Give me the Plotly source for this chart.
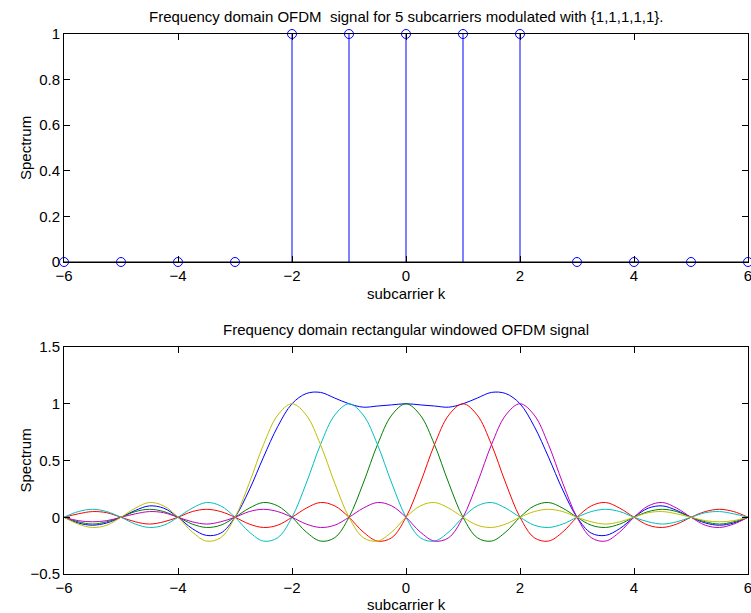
import plotly.graph_objects as go

# ---- data ----
k_stem = [-6, -5, -4, -3, -2, -1, 0, 1, 2, 3, 4, 5, 6]
spectrum = [0, 0, 0, 0, 1, 1, 1, 1, 1, 0, 0, 0, 0]

k_fine = [-6 + 0.25 * i for i in range(49)]

sum_spec = [0, -0.05, -0.07, -0.05, 0, 0.06, 0.10, 0.08, 0, -0.10, -0.16, -0.14,
            0, 0.24, 0.53, 0.80, 1, 1.09, 1.10, 1.05, 1, 0.97, 0.98, 0.99,
            1, 0.99, 0.98, 0.97, 1, 1.05, 1.10, 1.09, 1, 0.80, 0.53, 0.24,
            0, -0.14, -0.16, -0.10, 0, 0.08, 0.10, 0.06, 0, -0.05, -0.07, -0.05, 0]
sub_m2 = [0, -0.06, -0.09, -0.07, 0, 0.08, 0.13, 0.10, 0, -0.13, -0.21, -0.18,
          0, 0.30, 0.64, 0.90, 1, 0.90, 0.64, 0.30, 0, -0.18, -0.21, -0.13,
          0, 0.10, 0.13, 0.08, 0, -0.07, -0.09, -0.06, 0, 0.05, 0.07, 0.05,
          0, -0.04, -0.06, -0.04, 0, 0.04, 0.05, 0.03, 0, -0.03, -0.04, -0.03, 0]
sub_m1 = [0, 0.05, 0.07, 0.05, 0, -0.06, -0.09, -0.07, 0, 0.08, 0.13, 0.10,
          0, -0.13, -0.21, -0.18, 0, 0.30, 0.64, 0.90, 1, 0.90, 0.64, 0.30,
          0, -0.18, -0.21, -0.13, 0, 0.10, 0.13, 0.08, 0, -0.07, -0.09, -0.06,
          0, 0.05, 0.07, 0.05, 0, -0.04, -0.06, -0.04, 0, 0.04, 0.05, 0.03, 0]
sub_0 = [0, -0.04, -0.06, -0.04, 0, 0.05, 0.07, 0.05, 0, -0.06, -0.09, -0.07,
         0, 0.08, 0.13, 0.10, 0, -0.13, -0.21, -0.18, 0, 0.30, 0.64, 0.90,
         1, 0.90, 0.64, 0.30, 0, -0.18, -0.21, -0.13, 0, 0.10, 0.13, 0.08,
         0, -0.07, -0.09, -0.06, 0, 0.05, 0.07, 0.05, 0, -0.04, -0.06, -0.04, 0]
sub_p1 = [0, 0.03, 0.05, 0.04, 0, -0.04, -0.06, -0.04, 0, 0.05, 0.07, 0.05,
          0, -0.06, -0.09, -0.07, 0, 0.08, 0.13, 0.10, 0, -0.13, -0.21, -0.18,
          0, 0.30, 0.64, 0.90, 1, 0.90, 0.64, 0.30, 0, -0.18, -0.21, -0.13,
          0, 0.10, 0.13, 0.08, 0, -0.07, -0.09, -0.06, 0, 0.05, 0.07, 0.05, 0]
sub_p2 = [0, -0.03, -0.04, -0.03, 0, 0.03, 0.05, 0.04, 0, -0.04, -0.06, -0.04,
          0, 0.05, 0.07, 0.05, 0, -0.06, -0.09, -0.07, 0, 0.08, 0.13, 0.10,
          0, -0.13, -0.21, -0.18, 0, 0.30, 0.64, 0.90, 1, 0.90, 0.64, 0.30,
          0, -0.18, -0.21, -0.13, 0, 0.10, 0.13, 0.08, 0, -0.07, -0.09, -0.06, 0]

x_ticks = [-6, -4, -2, 0, 2, 4, 6]
top_yticks = [0, 0.2, 0.4, 0.6, 0.8, 1]
bot_yticks = [-0.5, 0, 0.5, 1, 1.5]

title_top = "Frequency domain OFDM  signal for 5 subcarriers modulated with {1,1,1,1,1}."
title_bot = "Frequency domain rectangular windowed OFDM signal"
xlabel = "subcarrier k"
ylabel = "Spectrum"

FONT = "Liberation Sans, Arial, Helvetica, sans-serif"
FS = 15

fig = go.Figure()

# stems
sx, sy = [], []
for kk, v in zip(k_stem, spectrum):
    sx += [kk, kk, None]
    sy += [0, v, None]
fig.add_trace(go.Scatter(x=sx, y=sy, mode="lines", line=dict(color="#0000ff", width=1),
                         xaxis="x", yaxis="y", showlegend=False, hoverinfo="skip"))
fig.add_trace(go.Scatter(x=[k_stem[0], k_stem[-1]], y=[0, 0], mode="lines",
                         line=dict(color="black", width=1), xaxis="x", yaxis="y",
                         showlegend=False, hoverinfo="skip"))
fig.add_trace(go.Scatter(x=k_stem, y=spectrum, mode="markers", cliponaxis=False,
                         marker=dict(symbol="circle-open", size=9, color="#0000ff",
                                     line=dict(width=1, color="#0000ff")),
                         xaxis="x", yaxis="y", showlegend=False))

series = [(sum_spec, "#0000ff"), (sub_0, "#008000"), (sub_p1, "#ff0000"),
          (sub_m1, "#00bfbf"), (sub_p2, "#bf00bf"), (sub_m2, "#bfbf00")]
for ys, col in series:
    fig.add_trace(go.Scatter(x=k_fine, y=ys, mode="lines", line=dict(color=col, width=1, shape="spline"),
                             xaxis="x2", yaxis="y2", showlegend=False))

W, H = 751, 613
L, R = 64, 748
top_t, top_b = 34, 262
bot_t, bot_b = 347, 574

axis_common = dict(showline=True, linecolor="black", linewidth=1, mirror="ticks",
                   ticks="inside", ticklen=6, tickcolor="black", tickwidth=1,
                   showgrid=False, zeroline=False, automargin=False,
                   tickfont=dict(family=FONT, size=FS, color="black"))

cx = (L + R) / 2 / W
ann = dict(xref="paper", yref="paper", showarrow=False, xanchor="center", yanchor="middle",
           font=dict(family=FONT, size=FS, color="black"))

fig.update_layout(
    width=W, height=H, margin=dict(l=0, r=0, t=0, b=0, autoexpand=False),
    paper_bgcolor="white", plot_bgcolor="white",
    font=dict(family=FONT, size=FS, color="black"),
    xaxis=dict(domain=[L / W, R / W], range=[-6, 6], tickvals=x_ticks, anchor="y",
               ticklabeloverflow="allow", **axis_common),
    yaxis=dict(domain=[1 - top_b / H, 1 - top_t / H], range=[0, 1], tickvals=top_yticks, anchor="x", **axis_common),
    xaxis2=dict(domain=[L / W, R / W], range=[-6, 6], tickvals=x_ticks, anchor="y2",
                ticklabeloverflow="allow", **axis_common),
    yaxis2=dict(domain=[1 - bot_b / H, 1 - bot_t / H], range=[-0.5, 1.5], tickvals=bot_yticks, anchor="x2", **axis_common),
    annotations=[
        dict(text=title_top, x=cx, y=1 - 17 / H, **ann),
        dict(text=title_bot, x=cx, y=1 - 329 / H, **ann),
        dict(text=xlabel, x=cx, y=1 - 293 / H, **ann),
        dict(text=xlabel, x=cx, y=1 - 604 / H, **ann),
        dict(text=ylabel, x=25 / W, y=1 - (top_t + top_b) / 2 / H, textangle=-90, **ann),
        dict(text=ylabel, x=25 / W, y=1 - (bot_t + bot_b) / 2 / H, textangle=-90, **ann),
    ],
)

fig.write_html("out.html", config={"displayModeBar": False},
               post_script="document.body.style.margin='0';document.body.style.padding='0';"
                           "document.body.style.overflow='hidden';")
